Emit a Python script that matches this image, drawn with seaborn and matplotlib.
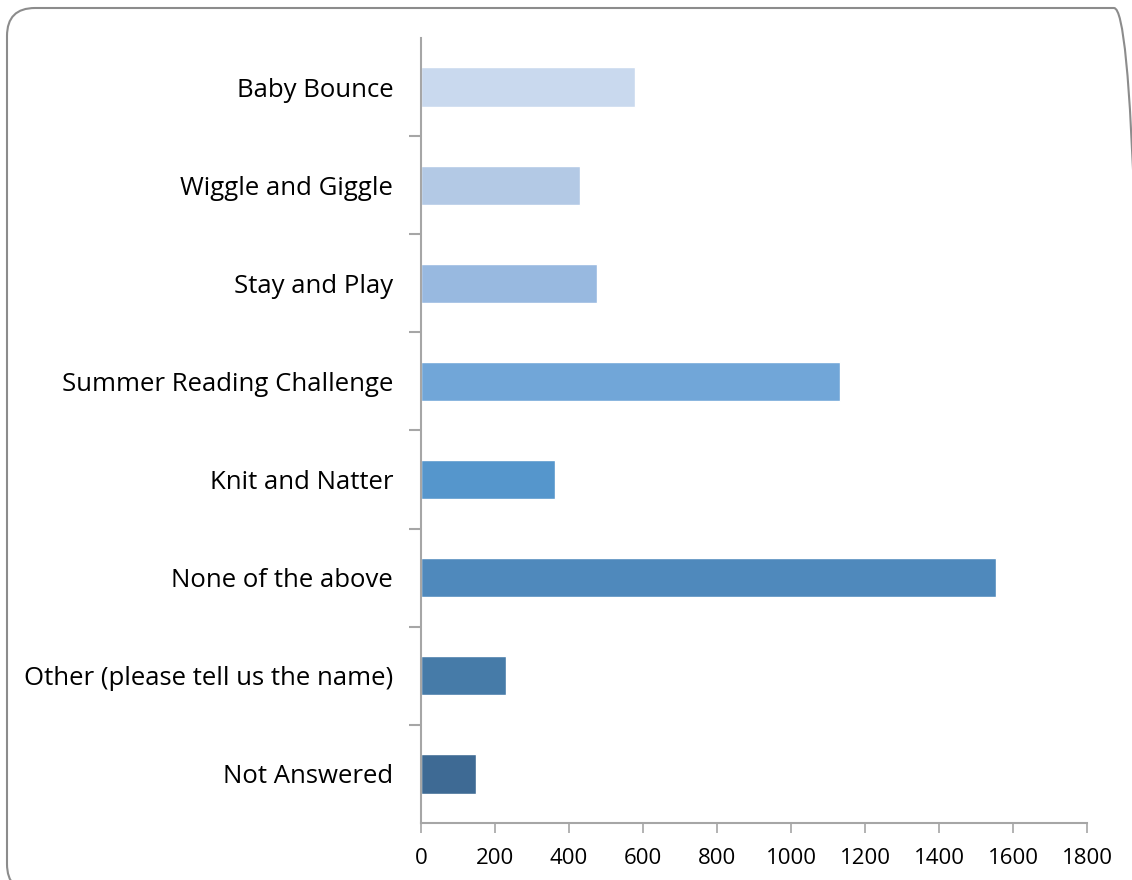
import numpy as np
import pandas as pd
import seaborn as sns
import matplotlib.pyplot as plt
from matplotlib.patches import FancyBboxPatch
from matplotlib.transforms import IdentityTransform

# survey answers, top to bottom as drawn
categories = ['Baby Bounce', 'Wiggle and Giggle', 'Stay and Play', 'Summer Reading Challenge',
              'Knit and Natter', 'None of the above', 'Other (please tell us the name)', 'Not Answered']
counts = [578, 430, 476, 1132, 362, 1554, 230, 149]
bar_colors = ['#C9D9EE', '#B3C9E5', '#98B9E0', '#71A6D8', '#5596CC', '#4F89BC', '#467BA8', '#3E6A94']
x_ticks = [0, 200, 400, 600, 800, 1000, 1200, 1400, 1600, 1800]

df = pd.DataFrame({'category': categories, 'count': counts})

sns.set_style('white')
plt.rcParams['font.family'] = ['Open Sans', 'DejaVu Sans']

fig = plt.figure(figsize=(11.32, 8.8), dpi=100)
ax = fig.add_axes([421 / 1132, 57 / 880, 666 / 1132, 785 / 880])

sns.barplot(data=df, x='count', y='category', hue='category', palette=bar_colors,
            order=categories, hue_order=categories, width=0.4, legend=False,
            saturation=1, ax=ax)

ax.set_xlim(0, 1800)
ax.set_ylim(7.5, -0.5)
ax.set_xticks(x_ticks)
ax.set_xlabel('')
ax.set_ylabel('')

axis_grey = '#A6A6A6'
for side in ['top', 'right']:
    ax.spines[side].set_visible(False)
for side in ['left', 'bottom']:
    ax.spines[side].set_color(axis_grey)
    ax.spines[side].set_linewidth(1.5)

# category labels without ticks, tick marks between categories
ax.tick_params(axis='y', which='major', left=True, length=0, pad=20, labelsize=18.5, labelcolor='black')
ax.set_yticks(np.arange(0.5, len(categories) - 1, 1), minor=True)
ax.tick_params(axis='y', which='minor', left=True, length=9, width=1.5, color=axis_grey, direction='out')
ax.tick_params(axis='x', which='major', bottom=True, length=7, width=1.2, color=axis_grey, direction='out',
               pad=11, labelsize=16, labelcolor='black')

# rounded frame around the whole chart (pixel coords, runs off right and bottom edges)
frame = FancyBboxPatch((7, -12), 1135, 884,
                       boxstyle='round,pad=0,rounding_size=28', transform=IdentityTransform(),
                       facecolor='none', edgecolor='#8C8C8C', linewidth=1.5)
fig.patches.append(frame)

fig.savefig('out.png', dpi=100)
